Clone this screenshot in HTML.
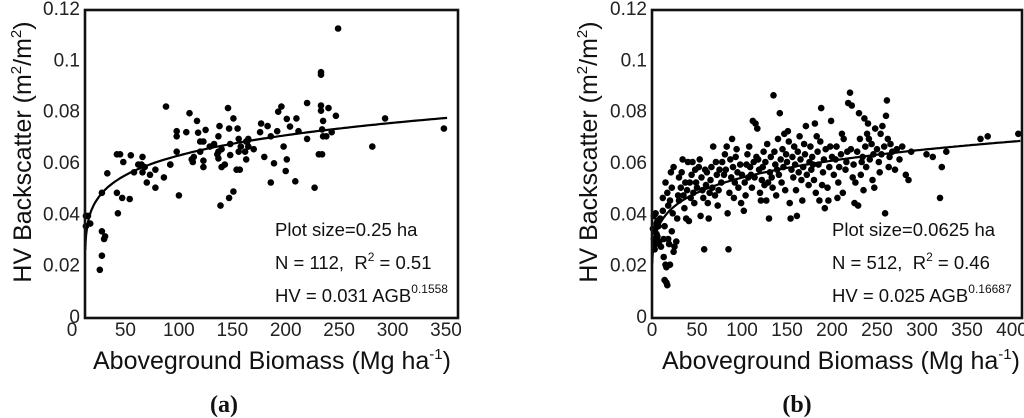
<!DOCTYPE html>
<html><head><meta charset="utf-8"><style>
html,body{margin:0;padding:0;background:#fff;}
svg{display:block;font-family:"Liberation Sans",sans-serif;}
</style></head><body>
<svg id="fig" width="1024" height="418" viewBox="0 0 1024 418">
<g id="pa"></g>
<g id="pb"></g>
</svg>
<script>
const yTicks=[0,0.02,0.04,0.06,0.08,0.1,0.12];
const yTickLabels=["0","0.02","0.04","0.06","0.08","0.1","0.12"];
const xTicksA=[0,50,100,150,200,250,300,350];
const xTicksB=[0,50,100,150,200,250,300,350,400];
const agbA=[249,233,233,88,110,146,151,117,98,98,107,125,118,120,138,137,133,98,114,113,123,123,136,137,140,148,156,156,164,165,162,163,170,157,154,143,140,147,155,151,147,139,100,86,92,92,78,78,73,70,66,65,68,66,62,58,55,48,45,42,42,47,54,43,33,28,28,31,30,28,26,13,15,13,17,177,183,176,186,192,193,196,201,204,210,212,198,180,189,201,200,186,209,220,220,227,233,233,235,234,235,238,240,243,247,231,234,281,293,348,165,163,158,148,137,129,120,112,123];
const hvA=[0.112,0.095,0.094,0.0816,0.079,0.081,0.077,0.076,0.072,0.070,0.0716,0.0725,0.0714,0.068,0.074,0.070,0.067,0.064,0.062,0.060,0.0605,0.058,0.063,0.0614,0.065,0.067,0.069,0.064,0.068,0.069,0.064,0.061,0.065,0.057,0.057,0.059,0.058,0.073,0.073,0.0485,0.046,0.043,0.047,0.054,0.059,0.059,0.050,0.057,0.055,0.052,0.062,0.059,0.058,0.056,0.059,0.056,0.0626,0.060,0.063,0.063,0.048,0.046,0.0456,0.040,0.0556,0.048,0.033,0.031,0.030,0.0235,0.018,0.039,0.039,0.035,0.036,0.075,0.074,0.0716,0.070,0.072,0.0796,0.0816,0.0768,0.0738,0.077,0.072,0.066,0.062,0.0595,0.061,0.0565,0.052,0.0525,0.083,0.069,0.050,0.082,0.080,0.076,0.0727,0.070,0.070,0.081,0.0716,0.078,0.063,0.063,0.066,0.077,0.073,0.066,0.068,0.066,0.0627,0.064,0.066,0.064,0.061,0.068];
const agbB=[2,3,4,5,2,6,3,7,8,4,9,5,10,1,6,12,14,13,15,16,14,16,17,12,15,18,20,19,22,24,25,22,20,18,23,21,24,17,13,27,28,30,30,32,33,35,36,38,40,42,44,46,48,45,47,37,29,34,39,43,41,49,50,52,53,55,56,57,58,60,61,62,63,64,65,66,68,70,72,74,54,59,67,71,73,75,77,78,80,81,83,84,85,86,88,89,90,92,93,95,96,98,99,100,82,87,91,94,102,103,105,106,108,110,111,112,115,117,118,119,120,121,122,123,124,125,107,113,116,104,109,114,126,127,128,130,131,132,133,134,135,136,137,138,140,141,142,143,144,145,146,147,148,149,150,139,129,151,152,153,154,155,156,157,158,159,160,161,162,163,165,166,168,169,170,171,172,174,175,164,167,176,177,178,180,181,182,184,185,186,187,188,190,191,192,193,195,196,197,198,199,200,179,183,189,202,204,205,207,208,210,212,213,215,216,218,220,221,222,223,224,225,206,211,217,226,228,230,231,232,234,235,236,237,238,240,241,242,244,245,246,247,248,250,229,233,239,252,253,255,256,258,259,260,261,262,264,265,267,270,272,275,278,282,285,288,254,263,305,312,320,322,327,365,373,407];
const hvB=[.030,.033,.028,.036,.039,.031,.026,.035,.029,.040,.038,.032,.027,.034,.037,.041,.035,.023,.020,.019,.014,.013,.012,.046,.052,.030,.020,.028,.033,.025,.027,.050,.045,.043,.040,.056,.058,.048,.030,.029,.038,.045,.054,.050,.056,.047,.042,.038,.060,.052,.055,.048,.057,.060,.044,.052,.047,.061,.049,.046,.037,.052,.050,.058,.061,.054,.049,.046,.026,.051,.056,.044,.038,.048,.053,.058,.066,.047,.055,.049,.039,.057,.050,.060,.043,.057,.052,.060,.055,.063,.066,.040,.026,.048,.054,.069,.058,.052,.062,.056,.050,.059,.044,.055,.057,.061,.046,.065,.041,.052,.059,.063,.066,.055,.050,.076,.075,.073,.061,.057,.048,.045,.053,.058,.064,.051,.054,.060,.062,.047,.058,.054,.060,.045,.067,.038,.056,.062,.054,.050,.086,.064,.059,.047,.069,.055,.079,.061,.052,.065,.058,.071,.049,.063,.060,.057,.052,.072,.068,.044,.038,.057,.062,.054,.066,.059,.049,.039,.064,.056,.061,.053,.058,.067,.063,.074,.055,.051,.060,.070,.045,.066,.057,.062,.053,.075,.048,.064,.059,.045,.068,.081,.056,.061,.042,.065,.050,.045,.058,.066,.076,.062,.059,.070,.051,.055,.061,.066,.052,.058,.063,.048,.069,.057,.060,.083,.087,.065,.082,.054,.059,.044,.046,.071,.064,.052,.064,.079,.069,.055,.062,.049,.077,.066,.058,.075,.069,.061,.067,.053,.063,.050,.073,.065,.043,.060,.071,.060,.056,.063,.074,.066,.040,.078,.084,.069,.062,.067,.064,.057,.065,.061,.066,.055,.053,.064,.071,.058,.063,.062,.046,.058,.064,.069,.070,.071];
const fitA={a:0.031,b:0.1558,max:350};
const fitB={a:0.025,b:0.16687,max:410};
const NS="http://www.w3.org/2000/svg";
function mk(p,t,at,txt){const e=document.createElementNS(NS,t);for(const k in at)e.setAttribute(k,at[k]);if(txt!==undefined)e.textContent=txt;p.appendChild(e);return e;}
const yS=v=>316-v*(308/0.12);

function panel(g,cfg){
  const xS=cfg.xS;
  for(let i=0;i<cfg.xs.length;i++){
    const c=mk(g,'circle',{cx:xS(cfg.xs[i]).toFixed(1),cy:yS(cfg.ys[i]).toFixed(1),r:3.3,fill:'#000'});
    
    
  }
  let d='';
  for(let a=0.3;a<=cfg.fit.max;a+=(a<10?0.3:3)){
    const px=cfg.curveX(a),py=yS(cfg.fit.a*Math.pow(a,cfg.fit.b));
    d+=(d?'L':'M')+px.toFixed(1)+','+py.toFixed(1);
  }
  const cv=mk(g,'path',{d:d,fill:'none',stroke:'#000','stroke-width':2.2});
  
  
  const fr=mk(g,'rect',{x:cfg.fx0,y:10,width:cfg.fx1-cfg.fx0,height:308,fill:'none',stroke:'#111','stroke-width':2.6});
  
  
  yTicks.forEach((v,i)=>{
    const t=mk(g,'text',{x:cfg.fx0-5,y:yS(v)+7,'text-anchor':'end','font-size':19,fill:'#222'},yTickLabels[i]);
    
    
  });
  cfg.xt.forEach(v=>{
    const t=mk(g,'text',{x:cfg.xL(v),y:336,'text-anchor':'middle','font-size':19,fill:'#222'},String(v));
    
    
  });
  const yt=mk(g,'text',{transform:`translate(${cfg.ytx},152) rotate(-90)`,'text-anchor':'middle','font-size':25,fill:'#111'});
  yt.innerHTML='HV Backscatter (m<tspan dy="-10" font-size="15">2</tspan><tspan dy="10">/m</tspan><tspan dy="-10" font-size="15">2</tspan><tspan dy="10">)</tspan>';
  
  
  const xt=mk(g,'text',{x:cfg.xtx,y:369,'font-size':25,fill:'#111'});
  xt.innerHTML='Aboveground Biomass (Mg ha<tspan dy="-10" font-size="15">-1</tspan><tspan dy="10">)</tspan>';
  
  
  const a1=mk(g,'text',{x:cfg.ax,y:236,'font-size':18.5,fill:'#111'},cfg.l1);
  
  
  const a2=mk(g,'text',{x:cfg.ax,y:269,'font-size':18.5,fill:'#111'});
  a2.innerHTML=cfg.l2+',&#160; R<tspan dy="-8" font-size="12">2</tspan><tspan dy="8"> = '+cfg.r2+'</tspan>';
  
  
  const a3=mk(g,'text',{x:cfg.ax,y:302,'font-size':18.5,fill:'#111'});
  a3.innerHTML=cfg.l3+'<tspan dy="-9" font-size="12">'+cfg.exp+'</tspan>';
  
  
  const lb=mk(g,'text',{x:cfg.lx,y:412,'text-anchor':'middle','font-size':24,'font-weight':'bold','font-family':'Liberation Serif, serif',fill:'#111'},cfg.lab);
  
  
}
panel(document.getElementById('pa'),{xs:agbA,ys:hvA,fit:fitA,xt:xTicksA,
  xS:v=>72+v*1.0686,xL:v=>72+v*1.0686,curveX:v=>85+v*1.037,
  fx0:85,fx1:458,ytx:31,xtx:93,ax:275,l1:'Plot size=0.25 ha',l2:'N = 112',r2:'0.51',l3:'HV = 0.031 AGB',exp:'0.1558',lx:224,lab:'(a)'});
panel(document.getElementById('pb'),{xs:agbB,ys:hvB,fit:fitB,xt:xTicksB,
  xS:v=>652+v*0.9,xL:v=>652+v*0.9,curveX:v=>652+v*0.9,
  fx0:652,fx1:1022,ytx:597,xtx:662,ax:832,l1:'Plot size=0.0625 ha',l2:'N = 512',r2:'0.46',l3:'HV = 0.025 AGB',exp:'0.16687',lx:797,lab:'(b)'});
</script>
</body></html>
